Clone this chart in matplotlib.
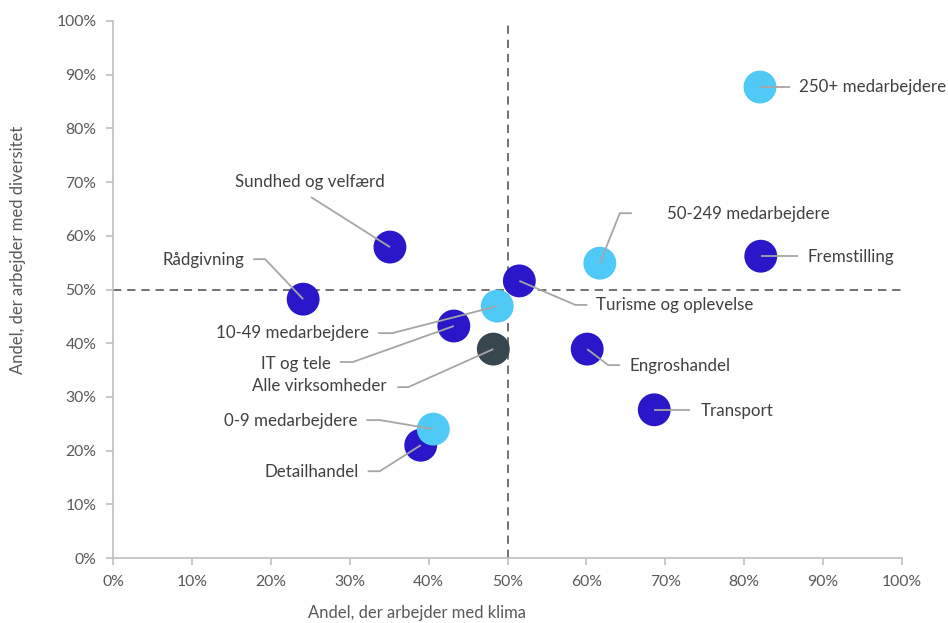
import matplotlib.pyplot as plt
from matplotlib.ticker import PercentFormatter

plt.rcParams['font.family'] = ['Lato', 'DejaVu Sans']

# Data
names = ['250+ medarbejdere', 'Fremstilling', '50-249 medarbejdere', 'Turisme og oplevelse',
         'Engroshandel', 'Transport', 'Sundhed og velfærd', 'Rådgivning',
         'IT og tele', '10-49 medarbejdere', 'Alle virksomheder', 'Detailhandel',
         '0-9 medarbejdere']
klima = [0.820, 0.821, 0.617, 0.515, 0.601, 0.686, 0.351, 0.241,
         0.432, 0.487, 0.482, 0.390, 0.406]
diversitet = [0.877, 0.562, 0.549, 0.516, 0.389, 0.276, 0.579, 0.482,
              0.432, 0.469, 0.389, 0.210, 0.240]
group = ['size', 'sector', 'size', 'sector', 'sector', 'sector', 'sector', 'sector',
         'sector', 'size', 'all', 'sector', 'size']

colors = {'sector': '#2A17C9', 'size': '#4FC9F6', 'all': '#38464F'}

# leader layout in pixel offsets from the point: elbow, end, text anchor, alignment
layout = {
    '250+ medarbejdere': ((30, 0), (30, 0), (39, 0), 'left'),
    'Fremstilling': ((37, 0), (37, 0), (47, 1), 'left'),
    '50-249 medarbejdere': ((20, -50), (32, -50), (67, -49), 'left'),
    'Turisme og oplevelse': ((56, 24), (68, 24), (77, 24), 'left'),
    'Engroshandel': ((21, 16), (33, 16), (42, 17), 'left'),
    'Transport': ((36, 0), (36, 0), (46, 1), 'left'),
    'Sundhed og velfærd': ((-79, -50), (-79, -50), (-80, -65), 'center'),
    'Rådgivning': ((-38, -40), (-50, -40), (-59, -39), 'right'),
    'IT og tele': ((-101, 36), (-114, 36), (-123, 38), 'right'),
    '10-49 medarbejdere': ((-105, 27), (-119, 27), (-128, 27), 'right'),
    'Alle virksomheder': ((-85, 38), (-96, 38), (-107, 37), 'right'),
    'Detailhandel': ((-41, 26), (-53, 26), (-62, 27), 'right'),
    '0-9 medarbejdere': ((-53, -9), (-67, -9), (-76, -8), 'right'),
}

fig = plt.figure(figsize=(9.48, 6.23), dpi=100)
ax = fig.add_axes([113 / 948, 65 / 623, 789 / 948, 537 / 623])

ax.set_xlim(0, 1)
ax.set_ylim(0, 1)

# quadrant lines
ax.axvline(0.5, color='#595959', linestyle=(0, (5, 3.5)), linewidth=1.2, zorder=1)
ax.axhline(0.5, color='#595959', linestyle=(0, (5, 3.5)), linewidth=1.2, zorder=1)

for i, name in enumerate(names):
    ax.scatter(klima[i], diversitet[i], s=560, color=colors[group[i]],
               edgecolor='none', zorder=3 + (group[i] == 'size'))

# leaders and labels
sx = 1 / 789
sy = 1 / 537
for i, name in enumerate(names):
    (ex, ey), (hx, hy), (tx, ty), ha = layout[name]
    x0, y0 = klima[i], diversitet[i]
    xs = [x0, x0 + ex * sx, x0 + hx * sx]
    ys = [y0, y0 - ey * sy, y0 - hy * sy]
    ax.plot(xs, ys, color='#A6A6A6', linewidth=1.3, zorder=5, solid_capstyle='butt')
    ax.text(x0 + tx * sx, y0 - ty * sy, name, ha=ha, va='center',
            fontsize=12.2, color='#404040', zorder=6)

ax.xaxis.set_major_formatter(PercentFormatter(1.0, decimals=0))
ax.yaxis.set_major_formatter(PercentFormatter(1.0, decimals=0))
ax.set_xticks([i / 10 for i in range(11)])
ax.set_yticks([i / 10 for i in range(11)])

for s in ['top', 'right']:
    ax.spines[s].set_visible(False)
for s in ['left', 'bottom']:
    ax.spines[s].set_color('#BFBFBF')
    ax.spines[s].set_linewidth(1.2)
ax.tick_params(axis='both', colors='#BFBFBF', length=5, width=1.2,
               labelcolor='#595959', labelsize=11.3)
ax.tick_params(axis='x', pad=7)
ax.tick_params(axis='y', pad=7)

ax.set_xlabel('Andel, der arbejder med klima', fontsize=12, color='#595959')
ax.xaxis.set_label_coords(0.385, -0.088)
ax.set_ylabel('Andel, der arbejder med diversitet', fontsize=12, color='#595959')
ax.yaxis.set_label_coords(-0.110, 0.574)

plt.savefig('out.png', dpi=100)
